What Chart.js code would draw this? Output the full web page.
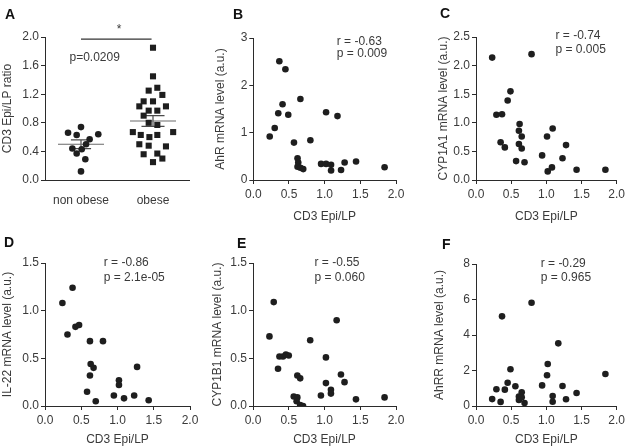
<!DOCTYPE html>
<html>
<head>
<meta charset="utf-8">
<script src="https://cdn.jsdelivr.net/npm/chart.js@4.4.1/dist/chart.umd.min.js"></script>
<style>
  html, body { margin: 0; padding: 0; background: #ffffff; }
  #wrap { position: relative; width: 628px; height: 447px; overflow: hidden; background: #fff; }
  canvas { position: absolute; }
</style>
</head>
<body>
<div id="wrap">
  <canvas id="cA"></canvas><canvas id="cB"></canvas><canvas id="cC"></canvas>
  <canvas id="cD"></canvas><canvas id="cE"></canvas><canvas id="cF"></canvas>
</div>
<script>
// ---------- DATA ----------
// Panel A: CD3 Epi/LP ratio by group (x = group index + jitter)
const groupLabels = ['non obese', 'obese'];
const nonObeseX = [-0.18, 0.00, -0.06, 0.24, 0.12, 0.07, -0.12, 0.01, -0.06, 0.06, 0.00];
const nonObeseY = [0.66, 0.74, 0.63, 0.64, 0.57, 0.50, 0.44, 0.43, 0.37, 0.29, 0.12];
const obeseX = [1.00, 1.00, 1.06, 0.94, 1.13, 0.87, 1.00, 0.81, 0.94, 1.06, 1.18, 0.87, 0.94, 1.06, 0.72, 0.83, 0.95, 1.06, 1.28, 0.81, 0.94, 1.18, 0.87, 1.06, 1.13, 1.00];
const obeseY = [1.85, 1.45, 1.29, 1.25, 1.19, 1.10, 1.10, 1.03, 0.97, 0.97, 1.03, 0.90, 0.80, 0.77, 0.67, 0.63, 0.60, 0.63, 0.67, 0.50, 0.48, 0.47, 0.36, 0.37, 0.30, 0.25];
const groupMean = [0.50, 0.825];
const groupSEM = [0.06, 0.075];
const pValueA = 'p=0.0209';

// Panel B: AhR
const bX = [0.365, 0.45, 0.66, 0.41, 0.35, 0.49, 0.30, 0.23, 1.02, 1.18, 0.57, 0.80, 0.62, 0.63, 0.62, 0.66, 0.70, 0.95, 1.02, 1.09, 1.09, 1.23, 1.28, 1.44, 1.84];
const bY = [2.51, 2.34, 1.71, 1.60, 1.41, 1.38, 1.10, 0.92, 1.43, 1.35, 0.79, 0.84, 0.46, 0.37, 0.28, 0.26, 0.23, 0.34, 0.34, 0.32, 0.20, 0.21, 0.37, 0.39, 0.27];
// Panel C: CYP1A1
const cX = [0.23, 0.79, 0.49, 0.45, 0.29, 0.37, 0.35, 0.41, 0.62, 0.61, 0.65, 0.61, 0.65, 0.57, 0.69, 0.94, 1.01, 1.09, 1.28, 1.23, 1.02, 1.08, 1.43, 1.84];
const cY = [2.14, 2.20, 1.55, 1.39, 1.14, 1.15, 0.66, 0.57, 0.98, 0.86, 0.76, 0.63, 0.55, 0.33, 0.31, 0.43, 0.76, 0.90, 0.61, 0.38, 0.15, 0.22, 0.18, 0.18];
// Panel D: IL-22
const dX = [0.38, 0.24, 0.31, 0.42, 0.47, 0.62, 0.80, 0.63, 0.67, 0.62, 0.58, 0.70, 1.27, 1.02, 1.02, 0.95, 1.09, 1.23, 1.43];
const dY = [1.24, 1.08, 0.75, 0.83, 0.85, 0.68, 0.68, 0.44, 0.40, 0.32, 0.15, 0.05, 0.41, 0.27, 0.22, 0.11, 0.08, 0.11, 0.06];
// Panel E: CYP1B1
const eX = [0.29, 0.23, 0.80, 1.17, 0.37, 0.42, 0.46, 0.50, 0.35, 1.02, 0.62, 0.66, 1.23, 1.02, 1.28, 1.09, 1.09, 0.95, 0.57, 0.62, 0.61, 0.66, 0.70, 1.44, 1.84];
const eY = [1.09, 0.73, 0.69, 0.90, 0.52, 0.52, 0.54, 0.53, 0.39, 0.51, 0.32, 0.29, 0.33, 0.24, 0.25, 0.17, 0.13, 0.11, 0.10, 0.09, 0.05, 0.01, 0.00, 0.07, 0.09];
// Panel F: AhRR
const fX = [0.37, 0.79, 1.17, 1.02, 1.01, 0.49, 1.84, 0.45, 0.56, 0.94, 1.23, 0.29, 0.41, 0.65, 1.43, 0.61, 1.09, 0.61, 0.65, 0.23, 0.35, 0.69, 1.09, 1.28];
const fY = [5.05, 5.82, 3.53, 2.37, 1.73, 2.07, 1.80, 1.31, 1.11, 1.16, 1.13, 0.94, 0.92, 0.77, 0.73, 0.53, 0.56, 0.34, 0.49, 0.39, 0.23, 0.17, 0.24, 0.38];

const stats = {
  B: ['r = -0.63', 'p = 0.009'],
  C: ['r = -0.74', 'p = 0.005'],
  D: ['r = -0.86', 'p = 2.1e-05'],
  E: ['r = -0.55', 'p = 0.060'],
  F: ['r = -0.29', 'p = 0.965']
};
const xTitle = 'CD3 Epi/LP';
const yTitles = {
  A: 'CD3 Epi/LP ratio',
  B: 'AhR mRNA level (a.u.)',
  C: 'CYP1A1 mRNA level (a.u.)',
  D: 'IL-22 mRNA level (a.u.)',
  E: 'CYP1B1 mRNA level (a.u.)',
  F: 'AhRR mRNA level (a.u.)'
};

// ---------- STYLE / LAYOUT ----------
const FONT = "'Liberation Sans', Arial, Helvetica, sans-serif";
const INK = '#2b2b2b';
const TXT = '#3a3a3a';
const DOT = '#1e1e1e';
Chart.defaults.font.family = FONT;
Chart.defaults.font.size = 12;
Chart.defaults.color = TXT;

const toPts = (xs, ys) => xs.map((x, i) => ({ x: x, y: ys[i] }));

function notesPlugin(letter, letterPos, notes) {
  return {
    id: 'notes' + letter,
    afterDraw(chart) {
      const ctx = chart.ctx;
      ctx.save();
      ctx.fillStyle = '#111';
      ctx.font = 'bold 14px ' + FONT;
      ctx.textBaseline = 'middle';
      ctx.textAlign = 'left';
      ctx.fillText(letter, letterPos[0], letterPos[1]);
      ctx.fillStyle = TXT;
      notes.forEach(n => {
        ctx.font = (n.size || 12) + 'px ' + FONT;
        ctx.textAlign = n.align || 'left';
        ctx.fillText(n.text, chart.scales.x.getPixelForValue(n.x), chart.scales.y.getPixelForValue(n.y));
      });
      ctx.restore();
    }
  };
}

function makeChart(id, spec) {
  const cv = document.getElementById(id);
  cv.width = spec.w; cv.height = spec.h;
  cv.style.left = spec.left + 'px'; cv.style.top = spec.top + 'px';
  cv.style.width = spec.w + 'px'; cv.style.height = spec.h + 'px';
  const a = spec.area;
  const titleHalf = 7.2;
  const padLeft = spec.yTitleX - titleHalf;
  const yWidth = a.l - padLeft;
  const xBoxBottom = spec.xTitleY !== null ? spec.xTitleY + titleHalf : spec.h;
  const xHeight = xBoxBottom - a.b;
  const padBottom = spec.h - xBoxBottom;

  const axisCommon = {
    border: { display: true, color: INK, width: 1 },
    grid: { drawOnChartArea: false, drawTicks: true, tickLength: 4, color: INK },
  };
  new Chart(cv.getContext('2d'), {
    type: 'scatter',
    data: { datasets: spec.datasets },
    options: {
      responsive: false, animation: false, devicePixelRatio: 1,
      layout: { padding: { left: padLeft, right: spec.w - a.r, top: a.t, bottom: padBottom } },
      plugins: { legend: { display: false }, tooltip: { enabled: false } },
      scales: {
        x: Object.assign({}, axisCommon, {
          type: 'linear', min: spec.xMin, max: spec.xMax,
          grid: Object.assign({}, axisCommon.grid, spec.xGrid || {}),
          ticks: Object.assign({ padding: 3, maxRotation: 0, color: TXT, font: { size: 12 } }, spec.xTicks),
          afterBuildTicks: spec.xAfterBuild,
          title: { display: spec.xTitleY !== null, text: xTitle, color: TXT, padding: { top: 0, bottom: 0 }, font: { size: 12 } },
          afterFit: s => { s.height = xHeight; }
        }),
        y: Object.assign({}, axisCommon, {
          type: 'linear', min: spec.yMin, max: spec.yMax,
          ticks: { stepSize: spec.yStep, padding: 2, color: TXT, font: { size: 12 }, callback: spec.yFmt },
          title: { display: true, text: spec.yTitle, color: TXT, padding: { top: 0, bottom: 0 }, font: { size: 12 } },
          afterFit: s => { s.width = yWidth; }
        })
      }
    },
    plugins: [notesPlugin(spec.letter, spec.letterPos, spec.notes || [])]
  });
}

const fmt1 = v => Number(v).toFixed(1);
const fmt0 = v => String(Math.round(v));
const scatterDs = (xs, ys) => ({
  data: toPts(xs, ys), showLine: false,
  pointRadius: 3.3, pointHoverRadius: 3.3, pointStyle: 'circle',
  pointBackgroundColor: DOT, pointBorderColor: DOT, pointBorderWidth: 0
});
const lineDs = (pts, color) => ({
  type: 'line', data: pts, showLine: true, spanGaps: false, pointRadius: 0,
  borderColor: color, borderWidth: 1.2, fill: false, clip: false, order: 5
});
const scatterX = { stepSize: 0.5, callback: fmt1 };

// ---- Panel A datasets ----
const mw = 0.32, cw = [0.14, 0.16];
const meanPts = [];
const semPts = [];
groupMean.forEach((m, g) => {
  meanPts.push({ x: g - mw, y: m }, { x: g + mw, y: m }, { x: g, y: null });
  const lo = m - groupSEM[g], hi = m + groupSEM[g];
  semPts.push({ x: g, y: lo }, { x: g, y: hi }, { x: g, y: null });
  semPts.push({ x: g - cw[g], y: hi }, { x: g + cw[g], y: hi }, { x: g, y: null });
  semPts.push({ x: g - cw[g], y: lo }, { x: g + cw[g], y: lo }, { x: g, y: null });
});

makeChart('cA', {
  left: 0, top: 0, w: 210, h: 225,
  area: { l: 45, r: 189, t: 37, b: 180 },
  yTitleX: 8, xTitleY: null,
  xMin: -0.5, xMax: 1.5, yMin: 0, yMax: 2.0, yStep: 0.4, yFmt: fmt1,
  yTitle: yTitles.A,
  xGrid: { drawTicks: false },
  xTicks: { padding: 13, callback: v => groupLabels[v] !== undefined ? groupLabels[v] : '' },
  xAfterBuild: s => { s.ticks = groupLabels.map((_, i) => ({ value: i })); },
  letter: 'A', letterPos: [5, 15],
  notes: [
    { text: pValueA, x: -0.16, y: 1.71 },
    { text: '*', x: 0.53, y: 2.10, align: 'center' }
  ],
  datasets: [
    Object.assign(scatterDs(nonObeseX, nonObeseY), {}),
    Object.assign(scatterDs(obeseX, obeseY), { pointStyle: 'rect', pointRadius: 4.3, pointHoverRadius: 4.3 }),
    lineDs(meanPts, '#6a6a6a'),
    lineDs(semPts, '#4a4a4a'),
    lineDs([{ x: 0.0, y: 1.97 }, { x: 0.98, y: 1.97 }], '#333')
  ]
});

makeChart('cB', {
  left: 210, top: 0, w: 210, h: 225,
  area: { l: 43.3, r: 186, t: 38, b: 180 },
  yTitleX: 11, xTitleY: 217,
  xMin: 0, xMax: 2, yMin: 0, yMax: 3, yStep: 1, yFmt: fmt0,
  yTitle: yTitles.B, xTicks: scatterX,
  letter: 'B', letterPos: [23, 15],
  notes: [{ text: stats.B[0], x: 1.17, y: 2.93 }, { text: stats.B[1], x: 1.17, y: 2.66 }],
  datasets: [scatterDs(bX, bY)]
});

makeChart('cC', {
  left: 415, top: 0, w: 213, h: 225,
  area: { l: 61, r: 204, t: 37, b: 180 },
  yTitleX: 29, xTitleY: 217,
  xMin: 0, xMax: 2, yMin: 0, yMax: 2.5, yStep: 0.5, yFmt: fmt1,
  yTitle: yTitles.C, xTicks: scatterX,
  letter: 'C', letterPos: [25, 14],
  notes: [{ text: stats.C[0], x: 1.13, y: 2.52 }, { text: stats.C[1], x: 1.13, y: 2.27 }],
  datasets: [scatterDs(cX, cY)]
});

makeChart('cD', {
  left: 0, top: 225, w: 210, h: 222,
  area: { l: 45, r: 190, t: 38, b: 181 },
  yTitleX: 8, xTitleY: 215,
  xMin: 0, xMax: 2, yMin: 0, yMax: 1.5, yStep: 0.5, yFmt: fmt1,
  yTitle: yTitles.D, xTicks: scatterX,
  letter: 'D', letterPos: [4, 18],
  notes: [{ text: stats.D[0], x: 0.81, y: 1.50 }, { text: stats.D[1], x: 0.81, y: 1.35 }],
  datasets: [scatterDs(dX, dY)]
});

makeChart('cE', {
  left: 210, top: 225, w: 210, h: 222,
  area: { l: 43, r: 186, t: 38, b: 181 },
  yTitleX: 8, xTitleY: 215,
  xMin: 0, xMax: 2, yMin: 0, yMax: 1.5, yStep: 0.5, yFmt: fmt1,
  yTitle: yTitles.E, xTicks: scatterX,
  letter: 'E', letterPos: [27, 19.5],
  notes: [{ text: stats.E[0], x: 0.86, y: 1.50 }, { text: stats.E[1], x: 0.86, y: 1.35 }],
  datasets: [scatterDs(eX, eY)]
});

makeChart('cF', {
  left: 415, top: 225, w: 213, h: 222,
  area: { l: 61, r: 204, t: 39, b: 181 },
  yTitleX: 25, xTitleY: 215,
  xMin: 0, xMax: 2, yMin: 0, yMax: 8, yStep: 2, yFmt: fmt0,
  yTitle: yTitles.F, xTicks: scatterX,
  letter: 'F', letterPos: [27, 20.5],
  notes: [{ text: stats.F[0], x: 0.92, y: 8.0 }, { text: stats.F[1], x: 0.92, y: 7.23 }],
  datasets: [scatterDs(fX, fY)]
});
</script>
</body>
</html>
